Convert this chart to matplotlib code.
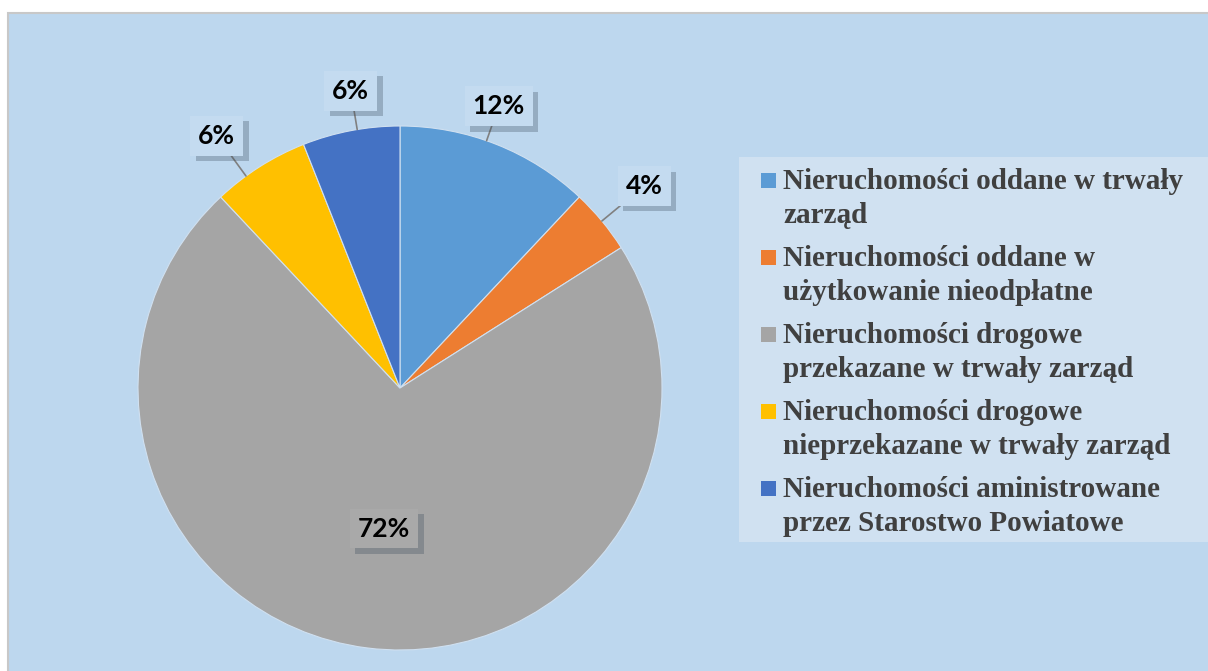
import numpy as np
import matplotlib.pyplot as plt
from matplotlib.patches import Rectangle
import matplotlib.patheffects as pe

# data
categories = [
    "Nieruchomości oddane w trwały\nzarząd",
    "Nieruchomości oddane w\nużytkowanie nieodpłatne",
    "Nieruchomości drogowe\nprzekazane w trwały zarząd",
    "Nieruchomości drogowe\nnieprzekazane w trwały zarząd",
    "Nieruchomości aministrowane\nprzez Starostwo Powiatowe",
]
shares = [12, 4, 72, 6, 6]
colors = ["#5B9BD5", "#ED7D31", "#A5A5A5", "#FFC000", "#4472C4"]

bg = "#BDD7EE"
W, H = 1208, 671

fig = plt.figure(figsize=(W / 100, H / 100), dpi=100)
fig.patch.set_facecolor("white")
ax = fig.add_axes([0, 0, 1, 1])
ax.axis("off")

# chart area
ax.add_patch(Rectangle((8, -2), W, H - 13 + 2, facecolor=bg, edgecolor="#C8C8C8",
                       lw=1.5, zorder=0))

# pie (pixel coordinates, y up)
cx, cy, R = 400, H - 388, 262
wedges, _ = ax.pie(shares, colors=colors, startangle=90, counterclock=False,
                   center=(cx, cy), radius=R,
                   wedgeprops=dict(edgecolor="#D0E0F0", linewidth=0.8))
ax.set_xlim(0, W)
ax.set_ylim(0, H)
ax.set_aspect("equal")

shadow = [pe.SimplePatchShadow(offset=(4, -4), shadow_rgbFace="#3A4A5A", alpha=0.3),
          pe.Normal()]

# data labels
lab_r = [1.14, 1.21, 0.54, 1.19, 1.15]
lab_nudge = [2.3, 0.0, 0.7, 3.6, -1.4]
for w, s, rf, nd in zip(wedges, shares, lab_r, lab_nudge):
    mid = np.deg2rad((w.theta1 + w.theta2) / 2)
    ang = mid + np.deg2rad(nd)
    tx, ty = cx + rf * R * np.cos(ang), cy + rf * R * np.sin(ang)
    if rf > 1:
        ex, ey = cx + R * np.cos(ang), cy + R * np.sin(ang)
        t = ax.annotate(f"{s}%", xy=(ex, ey), xytext=(tx, ty), ha="center", va="center",
                        fontsize=19, fontweight="bold", family=["Lato", "DejaVu Sans"],
                        color="black",
                        arrowprops=dict(arrowstyle="-", color="#808080", lw=1.2,
                                        shrinkA=0, shrinkB=0),
                        bbox=dict(boxstyle="square,pad=0.3", fc="#C4DBF0", ec="none"))
    else:
        t = ax.text(tx, ty, f"{s}%", ha="center", va="center",
                    fontsize=19, fontweight="bold", family=["Lato", "DejaVu Sans"],
                    color="black",
                    bbox=dict(boxstyle="square,pad=0.3", fc="#A9A9A9", ec="none"))
    t.get_bbox_patch().set_path_effects(shadow)

# legend
ax.add_patch(Rectangle((739, H - 542), W - 739, 542 - 157, facecolor="#D0E1F1",
                       edgecolor="none", zorder=3))
for i, (lab, c) in enumerate(zip(categories, colors)):
    base = H - (189 + i * 77)
    ax.add_patch(Rectangle((761, base + 1), 15, 15, facecolor=c, edgecolor="none",
                           zorder=4))
    for j, line in enumerate(lab.split("\n")):
        ax.text(783, base - j * 34, line, ha="left", va="baseline", fontsize=21,
                fontweight="bold", family=["Liberation Serif", "DejaVu Serif"],
                color="#404040", zorder=5)

fig.savefig("out.png", dpi=100, facecolor="white")
